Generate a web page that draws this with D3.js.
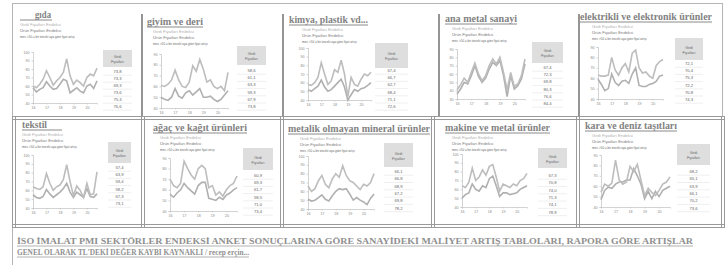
<!DOCTYPE html>
<html><head><meta charset="utf-8">
<script src="https://cdn.jsdelivr.net/npm/d3@7"></script>
<style>html,body{margin:0;padding:0;background:#fff;}svg{display:block;}</style>
</head><body>
<svg id="c" width="727" height="265"></svg>
<script>
// ---------- DATA ----------
const panelTitles = ["gıda","giyim ve deri","kimya, plastik vd...","ana metal sanayi","elektrikli ve elektronik ürünler",
  "tekstil","ağaç ve kağıt ürünleri","metalik olmayan mineral ürünler","makine ve metal ürünler","kara ve deniz taşıtları"];
const legendGirdi = "Girdi Fiyatları Endeksi";
const legendUrun = "Ürün Fiyatları Endeksi";
const legendNote = "mev. >50 = bir önceki aya göre fiyat artışı";
const boxHeader = ["Girdi","Fiyatları"];
const xTickLabels = ["16","17","18","19","20"];
const periods = d3.range(20).map(i => 16 + i * 0.25);

const yTicksGida = [40,50,60,70,80,90,100];
const yTicksGiyim = [40,50,60,70,80,90];
const yTicksKimya = [40,50,60,70,80,90,100];
const yTicksMetal = [30,40,50,60,70,80,90];
const yTicksElek = [40,50,60,70,80,90];
const yTicksTekstil = [40,50,60,70,80,90,100];
const yTicksAgac = [40,50,60,70,80,90];
const yTicksMineral = [40,50,60,70,80,90,100];
const yTicksMakine = [40,50,60,70,80,90,100];
const yTicksKara = [40,50,60,70,80,90];

const girdiGida = [60,58,62,68,78,70,61,66,70,76,92,72,62,67,64,60,70,74,72,81];
const urunGida  = [58,53,56,58,65,60,56,57,62,68,66,52,55,58,54,52,60,62,57,66];
const girdiGiyim = [61,60,62,66,75,66,60,59,64,79,74,85,76,64,66,60,58,60,56,73];
const urunGiyim  = [50,48,47,50,58,51,49,54,56,52,55,58,50,50,51,48,46,48,52,56];
const girdiKimya = [58,57,60,66,83,70,58,62,75,72,86,70,44,66,58,56,64,70,68,72];
const urunKimya  = [52,50,53,56,63,55,50,52,56,60,64,55,40,46,52,50,53,54,57,60];
const girdiMetal = [41,47,55,50,62,73,60,52,58,70,78,72,80,62,41,62,45,48,58,78];
const urunMetal  = [36,42,50,48,58,70,57,50,55,66,74,70,76,58,33,58,42,46,54,72];
const girdiElek = [63,62,62,63,80,68,63,70,74,66,84,87,70,65,66,62,60,72,76,78];
const urunElek  = [59,54,48,50,64,56,53,57,58,55,64,70,53,52,52,54,55,57,62,63];
const girdiTekstil = [64,62,61,64,79,68,60,64,66,72,89,70,54,65,60,52,68,55,56,81];
const urunTekstil  = [55,52,51,53,61,56,52,55,58,62,68,58,52,58,55,52,62,53,52,56];
const girdiAgac = [70,64,62,66,87,80,74,70,80,83,80,62,64,55,58,54,60,64,66,73];
const urunAgac  = [56,53,57,60,66,62,59,56,64,67,67,52,51,50,53,51,55,57,60,62];
const girdiMineral = [66,60,63,72,78,68,64,74,80,76,89,78,72,70,66,62,68,66,70,80];
const urunMineral  = [51,49,50,53,56,51,49,55,60,63,62,63,57,50,53,50,48,45,52,57];
const girdiMakine = [64,62,68,84,70,74,82,76,86,88,74,58,66,64,62,66,64,70,72,78];
const urunMakine  = [50,54,56,66,60,58,64,62,72,75,64,52,56,56,54,55,56,60,62,64];
const girdiKara = [54,62,60,63,85,66,62,64,79,74,81,66,51,58,54,51,56,62,64,69];
const urunKara  = [47,56,59,58,62,64,64,66,66,77,70,62,48,55,48,55,50,56,58,60];

const tableGida = [73.8,73.3,69.3,73.6,75.3,76.6];
const tableGiyim = [58.6,61.1,63.3,59.3,67.9,73.8];
const tableKimya = [67.4,66.7,62.7,68.4,71.1,72.6];
const tableMetal = [67.4,72.3,69.8,80.3,76.6,84.4];
const tableElek = [72.1,70.4,75.3,72.2,70.8,74.3];
const tableTekstil = [57.4,63.9,59.4,58.2,67.3,73.1];
const tableAgac = [60.9,69.3,61.7,58.5,71.0,73.4];
const tableMineral = [66.1,66.8,68.9,67.2,69.8,78.2];
const tableMakine = [67.3,70.8,74.0,71.3,74.1,78.9];
const tableKara = [68.2,65.1,63.9,66.1,70.2,73.6];

const footerLine1 = "İSO İMALAT PMI SEKTÖRLER ENDEKSİ ANKET SONUÇLARINA GÖRE SANAYİDEKİ MALİYET ARTIŞ TABLOLARI, RAPORA GÖRE ARTIŞLAR";
const footerLine2 = "GENEL OLARAK TL'DEKİ DEĞER KAYBI KAYNAKLI / recep erçin...";

const panelData = [
  {yt:yTicksGida, g:girdiGida, u:urunGida, t:tableGida},
  {yt:yTicksGiyim, g:girdiGiyim, u:urunGiyim, t:tableGiyim},
  {yt:yTicksKimya, g:girdiKimya, u:urunKimya, t:tableKimya},
  {yt:yTicksMetal, g:girdiMetal, u:urunMetal, t:tableMetal},
  {yt:yTicksElek, g:girdiElek, u:urunElek, t:tableElek},
  {yt:yTicksTekstil, g:girdiTekstil, u:urunTekstil, t:tableTekstil},
  {yt:yTicksAgac, g:girdiAgac, u:urunAgac, t:tableAgac},
  {yt:yTicksMineral, g:girdiMineral, u:urunMineral, t:tableMineral},
  {yt:yTicksMakine, g:girdiMakine, u:urunMakine, t:tableMakine},
  {yt:yTicksKara, g:girdiKara, u:urunKara, t:tableKara}
];

// ---------- LAYOUT (geometry only) ----------
const layout = [
  {tx:35,ty:18,tw:16,u0:20,u1:52, lx:20, L:33,R:97,T:52,B:103, bx0:103,bx1:132,by0:50,by1:67, vy:73,vs:7},
  {tx:147,ty:25,tw:56,u0:147,u1:203, lx:153, L:161,R:228,T:54,B:108, bx0:237,bx1:266,by0:46,by1:65, vy:72,vs:7.2},
  {tx:289,ty:23,tw:79,u0:289,u1:368, lx:302, L:308,R:371,T:48,B:100, bx0:375,bx1:408,by0:43,by1:68, vy:72,vs:7.2},
  {tx:445,ty:22,tw:72,u0:445,u1:517, lx:452, L:457,R:525,T:49,B:99, bx0:532,bx1:563,by0:42,by1:63, vy:69,vs:7.2},
  {tx:580,ty:20,tw:132,u0:580,u1:712, lx:592, L:598,R:663,T:47,B:99, bx0:675,bx1:703,by0:38,by1:60, vy:65,vs:7.2},
  {tx:22,ty:128,tw:25,u0:22,u1:62, lx:22, L:33,R:97,T:155,B:208, bx0:108,bx1:131,by0:142,by1:163, vy:169,vs:7.2},
  {tx:153,ty:131,tw:94,u0:153,u1:247, lx:160, L:170,R:237,T:158,B:211, bx0:243,bx1:273,by0:148,by1:170, vy:177,vs:7.2},
  {tx:288,ty:132,tw:142,u0:288,u1:430, lx:300, L:308,R:374,T:156,B:209, bx0:384,bx1:413,by0:143,by1:167, vy:173,vs:7.3},
  {tx:445,ty:131,tw:105,u0:445,u1:550, lx:452, L:462,R:527,T:154,B:207, bx0:538,bx1:567,by0:148,by1:168, vy:177,vs:7.3},
  {tx:585,ty:129,tw:92,u0:585,u1:677, lx:592, L:601,R:670,T:155,B:207, bx0:677,bx1:710,by0:144,by1:165, vy:173,vs:7.3}
];

const fmt = d3.formatLocale({decimal:",", thousands:".", grouping:[3], currency:["",""]}).format(".1f");

const svg = d3.select("#c");
svg.append("rect").attr("width",727).attr("height",265).attr("fill","#fff");

const frame = svg.append("g").attr("fill","none");
frame.append("line").attr("x1",12).attr("x2",722).attr("y1",3.5).attr("y2",3.5).attr("stroke","#b5b5b5");
frame.append("line").attr("x1",12.5).attr("x2",12.5).attr("y1",3).attr("y2",265).attr("stroke","#b5b5b5");
frame.append("line").attr("x1",722.5).attr("x2",722.5).attr("y1",3).attr("y2",116).attr("stroke","#b5b5b5");
[142,283,439,579].forEach(x => frame.append("line").attr("x1",x).attr("x2",x).attr("y1",14).attr("y2",116)
  .attr("stroke","#7a7a7a").attr("stroke-width",1.6));
[116,119,224,227].forEach(y => frame.append("line").attr("x1",13).attr("x2",725).attr("y1",y+0.5).attr("y2",y+0.5)
  .attr("stroke","#9a9a9a").attr("stroke-width",1));
[14,143,282,433,578,723].forEach(x => [x-1.5,x+1.5].forEach(xx =>
  frame.append("line").attr("x1",xx).attr("x2",xx).attr("y1",116).attr("y2",228).attr("stroke","#9a9a9a").attr("stroke-width",1)));

panelData.forEach((p, i) => {
  const L = layout[i];
  const g = svg.append("g");
  g.append("text").attr("x",L.tx).attr("y",L.ty).text(panelTitles[i])
    .attr("font-family","Liberation Serif, serif").attr("font-weight","bold").attr("font-size",10.5)
    .attr("fill","#828282").attr("textLength",L.tw).attr("lengthAdjust","spacingAndGlyphs");
  g.append("line").attr("x1",L.u0).attr("x2",L.u1).attr("y1",L.ty+2).attr("y2",L.ty+2)
    .attr("stroke","#8a8a8a").attr("stroke-width",1);
  const lg = [[legendGirdi,"#b0b0b0",L.ty+8,4.2],[legendUrun,"#7a7a7a",L.ty+13.5,4.2],[legendNote,"#666",L.ty+20,3]];
  lg.forEach(d => g.append("text").attr("x",L.lx).attr("y",d[2]).text(d[0])
    .attr("font-family","Liberation Sans, Arial, sans-serif").attr("font-size",d[3]).attr("fill",d[1]));
  const x = d3.scaleLinear().domain([16, 20.75]).range([L.L, L.R]);
  const y = d3.scaleLinear().domain(d3.extent(p.yt)).range([L.B, L.T]);
  const yAx = g.append("g").attr("transform",`translate(${L.L},0)`)
    .call(d3.axisLeft(y).tickValues(p.yt).tickSize(1.5).tickPadding(2));
  const xAx = g.append("g").attr("transform",`translate(0,${L.B})`)
    .call(d3.axisBottom(x).tickValues([16,17,18,19,20]).tickFormat((d,k)=>xTickLabels[k]).tickSize(1.5).tickPadding(2));
  [yAx,xAx].forEach(a => {
    a.selectAll("path,line").attr("stroke","#c8c8c8").attr("stroke-width",0.8);
    a.selectAll("text").attr("font-size",3.6).attr("fill","#888").attr("font-family","Liberation Sans, Arial, sans-serif");
  });
  const line = d3.line().x((d,k)=>x(periods[k])).y(d=>y(d));
  g.append("path").datum(p.u).attr("d",line).attr("fill","none").attr("stroke","#b0b0b0").attr("stroke-width",1.6);
  g.append("path").datum(p.g).attr("d",line).attr("fill","none").attr("stroke","#bdbdbd").attr("stroke-width",1.6);
  g.append("rect").attr("x",L.bx0).attr("y",L.by0).attr("width",L.bx1-L.bx0).attr("height",L.by1-L.by0).attr("fill","#dedede");
  const cx = (L.bx0+L.bx1)/2;
  boxHeader.forEach((h,k) => g.append("text").attr("x",cx).attr("y",(L.by0+L.by1)/2 + (k===0?-0.5:4.5)).text(h)
    .attr("text-anchor","middle").attr("font-family","Liberation Sans, Arial, sans-serif").attr("font-size",3.6).attr("fill","#666"));
  p.t.forEach((v,k) => {
    const yy = L.vy + k*L.vs;
    g.append("text").attr("x",cx).attr("y",yy).text(fmt(v)).attr("text-anchor","middle")
      .attr("font-family","Liberation Sans, Arial, sans-serif").attr("font-size",4.2).attr("fill","#666");
    g.append("line").attr("x1",L.bx0).attr("x2",L.bx1).attr("y1",yy+2.2).attr("y2",yy+2.2).attr("stroke","#e4e4e4").attr("stroke-width",0.6);
  });
});

const ft = svg.append("g").attr("font-family","Liberation Serif, serif").attr("font-weight","bold").attr("font-size",8.5).attr("fill","#909090");
ft.append("text").attr("x",17).attr("y",244).text(footerLine1).attr("textLength",676).attr("lengthAdjust","spacingAndGlyphs");
ft.append("text").attr("x",17).attr("y",255).text(footerLine2).attr("textLength",232).attr("lengthAdjust","spacingAndGlyphs");
[[17,693,246],[17,249,257]].forEach(d => svg.append("line").attr("x1",d[0]).attr("x2",d[1]).attr("y1",d[2]).attr("y2",d[2])
  .attr("stroke","#a0a0a0").attr("stroke-width",0.8));
</script>
</body></html>
